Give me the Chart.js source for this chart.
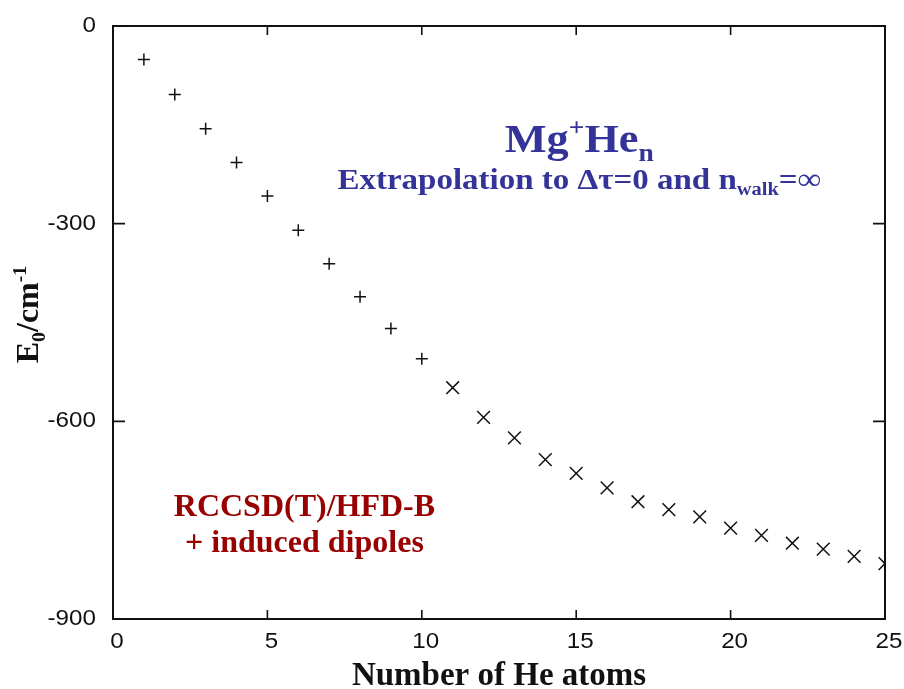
<!DOCTYPE html>
<html>
<head>
<meta charset="utf-8">
<script src="https://cdn.jsdelivr.net/npm/chart.js@4/dist/chart.umd.min.js"></script>
<style>
    html, body { margin: 0 ; padding: 0 ; background: #fff ; }
    #wrap { width: 904px ; height: 689px ; }
</style>
</head>
<body>
<div id="wrap"><canvas id="chart-mg"></canvas></div>
<script>
'use strict'

// --------------------------------------------
// DONNEES : energie E0 de Mg+He_n selon n
// --------------------------------------------
const HE_COUNT_PLUS  = [1, 2, 3, 4, 5, 6, 7, 8, 9, 10] ;
const ENERGY_PLUS    = [-51, -104, -156, -207, -258, -310, -361, -411, -459, -505] ;

const HE_COUNT_CROSS = [11, 12, 13, 14, 15, 16, 17, 18, 19, 20, 21, 22, 23, 24, 25] ;
const ENERGY_CROSS   = [-549, -594, -625, -658, -679, -701, -722, -734, -745, -762, -773, -785, -794, -805, -816] ;

const X_TICKS = [0, 5, 10, 15, 20, 25] ;
const Y_TICKS = [0, -300, -600, -900] ;

const INK   = '#111111' ;
const BLUE  = '#333399' ;
const RED   = '#990000' ;
const SERIF = '"Liberation Serif", "Times New Roman", serif' ;
const SANS  = '"Liberation Sans", Arial, sans-serif' ;


// --------------------------------------------
// Texte avec indices / exposants
// --------------------------------------------
function richWidth(ctx, parts, size) {
    let w = 0 ;
    parts.forEach(p => {
        const s = (p.sub || p.sup) ? size * 0.62 : size ;
        ctx.font = `bold ${s}px ${SERIF}` ;
        w += ctx.measureText(p.t).width ;
    }) ;
    return w ;
}

function drawRich(ctx, parts, cx, baseline, size, color, stretch = 1) {
    const total = richWidth(ctx, parts, size) ;
    ctx.save() ;
    ctx.translate(cx, baseline) ;
    ctx.scale(stretch, 1) ;
    let x = -total / 2 ;
    ctx.fillStyle = color ;
    ctx.textAlign = 'left' ;
    ctx.textBaseline = 'alphabetic' ;
    parts.forEach(p => {
        const s = (p.sub || p.sup) ? size * 0.62 : size ;
        let dy = 0 ;
        if (p.sub) dy = size * 0.22 ;
        if (p.sup) dy = -size * 0.38 ;
        ctx.font = `bold ${s}px ${SERIF}` ;
        ctx.fillText(p.t, x, dy) ;
        x += ctx.measureText(p.t).width ;
    }) ;
    ctx.restore() ;
}

function drawTickLabel(ctx, text, x, y, align) {
    ctx.save() ;
    ctx.translate(x, y) ;
    ctx.scale(1.1, 1) ;
    ctx.font = `22px ${SANS}` ;
    ctx.fillStyle = INK ;
    ctx.textAlign = align ;
    ctx.textBaseline = 'middle' ;
    ctx.fillText(text, 0, 0) ;
    ctx.restore() ;
}


// --------------------------------------------
// Cadre, ticks interieurs et annotations
// --------------------------------------------
const framePlugin = {
    id: 'frame',
    afterDatasetsDraw(chart) {
        const { ctx, chartArea: a, scales } = chart ;
        ctx.save() ;
        ctx.strokeStyle = INK ;
        ctx.lineWidth = 2 ;
        ctx.strokeRect(a.left, a.top, a.right - a.left, a.bottom - a.top) ;

        ctx.lineWidth = 1.6 ;
        ctx.beginPath() ;
        X_TICKS.forEach(v => {
            const px = scales.x.getPixelForValue(v) ;
            ctx.moveTo(px, a.bottom) ; ctx.lineTo(px, a.bottom - 9) ;
            ctx.moveTo(px, a.top) ;    ctx.lineTo(px, a.top + 9) ;
        }) ;
        Y_TICKS.forEach(v => {
            const py = scales.y.getPixelForValue(v) ;
            ctx.moveTo(a.left, py) ;  ctx.lineTo(a.left + 12, py) ;
            ctx.moveTo(a.right, py) ; ctx.lineTo(a.right - 12, py) ;
        }) ;
        ctx.stroke() ;

        // etiquettes des ticks
        X_TICKS.forEach(v => drawTickLabel(ctx, String(v), scales.x.getPixelForValue(v) + 4, a.bottom + 23, 'center')) ;
        Y_TICKS.forEach(v => drawTickLabel(ctx, String(v), a.left - 17, scales.y.getPixelForValue(v), 'right')) ;

        // titre en bleu
        const midX = scales.x.getPixelForValue(15.1) ;
        drawRich(ctx, [{ t: 'Mg' }, { t: '+', sup: true }, { t: 'He' }, { t: 'n', sub: true }],
                 midX, scales.y.getPixelForValue(-191), 41, BLUE, 1.08) ;
        drawRich(ctx, [{ t: 'Extrapolation to \u0394\u03c4=0 and n' }, { t: 'walk', sub: true }, { t: '=\u221e' }],
                 midX, scales.y.getPixelForValue(-247), 30, BLUE, 1.1) ;

        // methode en rouge
        const leftX = scales.x.getPixelForValue(6.2) ;
        drawRich(ctx, [{ t: 'RCCSD(T)/HFD-B' }], leftX, scales.y.getPixelForValue(-743), 32, RED) ;
        drawRich(ctx, [{ t: '+ induced dipoles' }], leftX, scales.y.getPixelForValue(-798), 32, RED) ;

        // titres des axes
        drawRich(ctx, [{ t: 'Number of He atoms' }], (a.left + a.right) / 2, 685, 33, INK) ;
        ctx.translate(38, (a.top + a.bottom) / 2 - 8) ;
        ctx.rotate(-Math.PI / 2) ;
        drawRich(ctx, [{ t: 'E' }, { t: '0', sub: true }, { t: '/cm' }, { t: '-1', sup: true }], 0, 0, 32, INK) ;
        ctx.restore() ;
    }
} ;


// --------------------------------------------
// GRAPHIQUE SCATTER
// --------------------------------------------
function renderChartMgHe() {
    const ctx = document.getElementById('chart-mg') ;

    new Chart(ctx, {
        type: 'scatter',
        data: {
            datasets: [
                {
                    data: HE_COUNT_PLUS.map((n, i) => ({ x: n, y: ENERGY_PLUS[i] })),
                    pointStyle: 'cross',
                    pointRadius: 6,
                    borderColor: INK,
                    borderWidth: 1.5,
                },
                {
                    data: HE_COUNT_CROSS.map((n, i) => ({ x: n, y: ENERGY_CROSS[i] })),
                    pointStyle: 'crossRot',
                    pointRadius: 9,
                    borderColor: INK,
                    borderWidth: 1.5,
                }
            ]
        },
        options: {
            responsive: true,
            maintainAspectRatio: false,
            animation: false,
            layout: { padding: { top: 26, right: 19, left: 0, bottom: 0 } },
            plugins: {
                legend: { display: false },
                tooltip: { enabled: false },
            },
            scales: {
                x: {
                    type: 'linear',
                    min: 0, max: 25,
                    afterFit: s => { s.height = 70 ; },
                    grid: { display: false, drawTicks: false },
                    border: { display: false },
                    ticks: { display: false },
                },
                y: {
                    type: 'linear',
                    min: -900, max: 0,
                    afterFit: s => { s.width = 113 ; },
                    grid: { display: false, drawTicks: false },
                    border: { display: false },
                    ticks: { display: false },
                }
            }
        },
        plugins: [framePlugin]
    }) ;
}

renderChartMgHe() ;
</script>
</body>
</html>
